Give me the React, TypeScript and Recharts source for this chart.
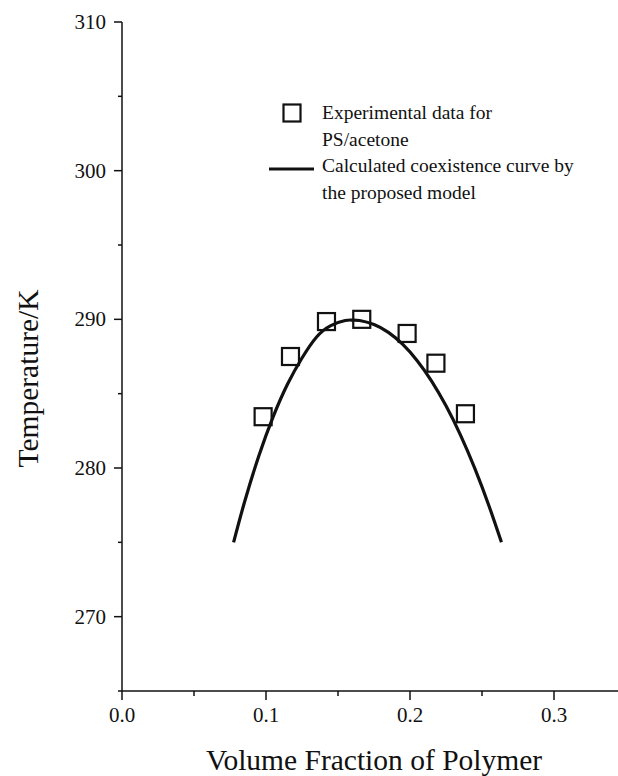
import React from "react"
import { ComposedChart, Legend, Line, Scatter, XAxis, YAxis } from "recharts"

// measured points (PS/acetone)
const expPhi = [0.098, 0.117, 0.142, 0.1665, 0.198, 0.218, 0.2385]
const expTemp = [283.45, 287.5, 289.85, 290.0, 289.05, 287.05, 283.65]

// calculated coexistence curve
const curvePhi = [0.0775, 0.085, 0.095, 0.105, 0.115, 0.125, 0.135, 0.145, 0.155, 0.16, 0.165, 0.175, 0.185, 0.195, 0.205, 0.215, 0.225, 0.235, 0.245, 0.255, 0.2635]
const curveTemp = [275.0, 277.68, 280.81, 283.46, 285.65, 287.4, 288.8, 289.58, 289.92, 289.95, 289.92, 289.65, 289.12, 288.31, 287.22, 285.85, 284.18, 282.23, 279.97, 277.41, 275.0]

const xTicks = [0, 0.05, 0.1, 0.15, 0.2, 0.25, 0.3]
const xMajor = [0, 0.1, 0.2, 0.3]
const yTicks = [265, 270, 275, 280, 285, 290, 295, 300, 305, 310]
const yMajor = [270, 280, 290, 300, 310]

const legendLines = ["Experimental data for", "PS/acetone", "Calculated coexistence curve by", "the proposed model"]

const FONT = "Liberation Serif"
const INK = "#111"

const expData = expPhi.map((x, i) => ({ x, t: expTemp[i] }))
const curveData = curvePhi.map((x, i) => ({ x, t: curveTemp[i] }))

const isMajor = (list: number[], v: number) => list.some((m) => Math.abs(m - v) < 1e-9)

const Square = (props: any) => {
  const { cx, cy } = props
  if (cx == null || cy == null) return <g />
  return <rect x={cx - 8.5} y={cy - 8.5} width={17} height={17} fill="none" stroke={INK} strokeWidth={2.2} />
}

const BottomTick = (props: any) => {
  const { x, y, payload } = props
  const major = isMajor(xMajor, payload.value)
  return (
    <g>
      <line x1={x} x2={x} y1={y} y2={y + (major ? 9 : 5)} stroke={INK} strokeWidth={1.5} />
      {major && (
        <text x={x} y={y + 31} textAnchor="middle" fontSize={21} style={{ fontFamily: FONT }} fill={INK}>
          {payload.value.toFixed(1)}
        </text>
      )}
    </g>
  )
}

const TopTick = (props: any) => {
  const { x, y, payload } = props
  const major = isMajor(xMajor, payload.value)
  return <line x1={x} x2={x} y1={y} y2={y + (major ? 8 : 4)} stroke={INK} strokeWidth={1.5} />
}

const LeftTick = (props: any) => {
  const { x, y, payload } = props
  const major = isMajor(yMajor, payload.value)
  return (
    <g>
      <line x1={x - (major ? 8 : 4)} x2={x} y1={y} y2={y} stroke={INK} strokeWidth={1.5} />
      {major && (
        <text x={x - 16} y={y + 7} textAnchor="end" fontSize={21} style={{ fontFamily: FONT }} fill={INK}>
          {payload.value}
        </text>
      )}
    </g>
  )
}

const RightTick = (props: any) => {
  const { x, y } = props
  return <line x1={x - 9} x2={x} y1={y} y2={y} stroke={INK} strokeWidth={1.5} />
}

const XTitle = (props: any) => {
  const vb = props.viewBox || {}
  return (
    <text x={vb.x + vb.width / 2} y={vb.y + 79} textAnchor="middle" fontSize={29.5} style={{ fontFamily: FONT }} fill={INK}>
      Volume Fraction of Polymer
    </text>
  )
}

const YTitle = (props: any) => {
  const vb = props.viewBox || {}
  const cy = vb.y + vb.height / 2 + 22
  return (
    <text
      x={0}
      y={0}
      transform={`translate(38, ${cy}) rotate(-90)`}
      textAnchor="middle"
      fontSize={29.5}
      style={{ fontFamily: FONT }}
      fill={INK}
    >
      Temperature/K
    </text>
  )
}

const LegendBox = () => (
  <svg width={640} height={210} style={{ display: "block" }}>
    <rect x={283.5} y={104.5} width={17} height={17} fill="none" stroke={INK} strokeWidth={2.2} />
    <line x1={269} x2={314} y1={169} y2={169} stroke={INK} strokeWidth={3.2} />
    {legendLines.map((s, i) => (
      <text key={s} x={322} y={119 + i * 26.5} fontSize={19.5} style={{ fontFamily: FONT }} fill={INK}>
        {s}
      </text>
    ))}
  </svg>
)

export default function App() {
  return (
    <div style={{ position: "absolute", left: 0, top: 0, width: 618, height: 776, overflow: "hidden", background: "#fff", fontFamily: FONT }}>
      <ComposedChart width={640} height={776} margin={{ top: 22, right: 14, bottom: 0, left: 0 }}>
        <XAxis
          type="number"
          dataKey="x"
          domain={[0, 0.35]}
          ticks={xTicks}
          interval={0}
          allowDataOverflow
          height={85}
          tickSize={0}
          tickMargin={0}
          tickLine={false}
          tick={<BottomTick />}
          axisLine={{ stroke: INK, strokeWidth: 1.5 }}
          label={<XTitle />}
        />
        <XAxis
          xAxisId="top"
          orientation="top"
          type="number"
          dataKey="x"
          domain={[0, 0.35]}
          ticks={xTicks}
          interval={0}
          allowDataOverflow
          height={0}
          tickSize={0}
          tickMargin={0}
          tickLine={false}
          tick={<TopTick />}
          axisLine={{ stroke: INK, strokeWidth: 1.5 }}
        />
        <YAxis
          type="number"
          domain={[265, 310]}
          ticks={yTicks}
          interval={0}
          allowDataOverflow
          width={122}
          tickSize={0}
          tickMargin={0}
          tickLine={false}
          tick={<LeftTick />}
          axisLine={{ stroke: INK, strokeWidth: 1.5 }}
          label={<YTitle />}
        />
        <YAxis
          yAxisId="right"
          orientation="right"
          type="number"
          domain={[265, 310]}
          ticks={yMajor}
          interval={0}
          allowDataOverflow
          width={0}
          tickSize={0}
          tickMargin={0}
          tickLine={false}
          tick={<RightTick />}
          axisLine={{ stroke: INK, strokeWidth: 1.5 }}
        />
        <Legend
          layout="horizontal"
          verticalAlign="middle"
          align="center"
          wrapperStyle={{ position: "absolute", left: 0, top: 0, width: 640, height: 210 }}
          content={<LegendBox />}
        />
        <Line
          data={curveData}
          dataKey="t"
          name="Calculated coexistence curve by the proposed model"
          type="natural"
          stroke={INK}
          strokeWidth={3.2}
          dot={false}
          activeDot={false}
          isAnimationActive={false}
        />
        <Scatter
          data={expData}
          dataKey="t"
          name="Experimental data for PS/acetone"
          shape={<Square />}
          isAnimationActive={false}
        />
      </ComposedChart>
    </div>
  )
}
